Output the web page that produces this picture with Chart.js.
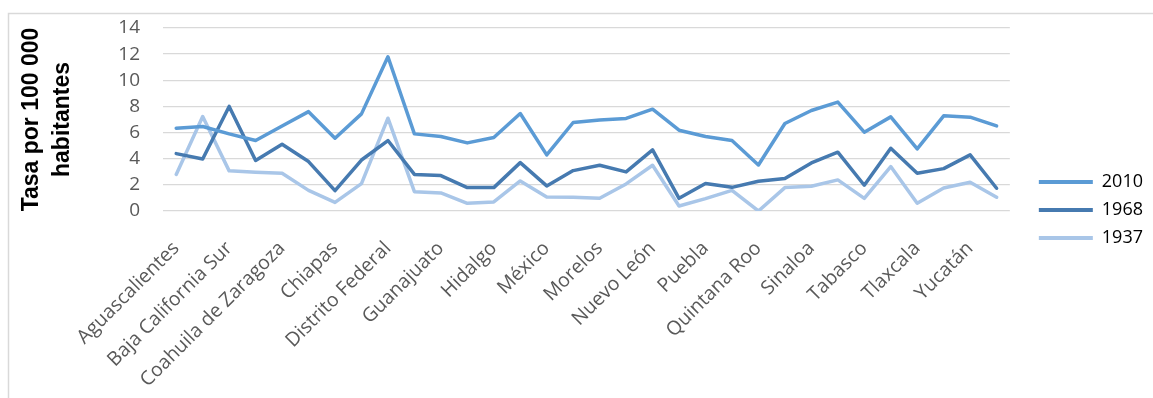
<!DOCTYPE html>
<html>
<head>
<meta charset="utf-8">
<script src="https://cdn.jsdelivr.net/npm/chart.js@4/dist/chart.umd.min.js"></script>
<style>
  html, body { margin: 0; padding: 0; background: #ffffff; }
  #wrap { width: 1153px; height: 398px; }
</style>
</head>
<body>
<div id="wrap"><canvas id="c" width="1153" height="398"></canvas></div>
<script>
const estados = [
  "Aguascalientes", "Baja California", "Baja California Sur", "Campeche",
  "Coahuila de Zaragoza", "Colima", "Chiapas", "Chihuahua",
  "Distrito Federal", "Durango", "Guanajuato", "Guerrero",
  "Hidalgo", "Jalisco", "México", "Michoacán de Ocampo",
  "Morelos", "Nayarit", "Nuevo León", "Oaxaca",
  "Puebla", "Querétaro", "Quintana Roo", "San Luis Potosí",
  "Sinaloa", "Sonora", "Tabasco", "Tamaulipas",
  "Tlaxcala", "Veracruz", "Yucatán", "Zacatecas"
];
const serie2010 = [6.33, 6.46, 5.9, 5.39, 6.5, 7.6, 5.57, 7.43, 11.8, 5.9, 5.7, 5.21, 5.62, 7.46, 4.29, 6.77,
                   6.97, 7.08, 7.79, 6.18, 5.7, 5.39, 3.52, 6.69, 7.69, 8.33, 6.03, 7.2, 4.75, 7.28, 7.18, 6.51];
const serie1968 = [4.39, 3.98, 8.0, 3.86, 5.1, 3.78, 1.56, 3.9, 5.39, 2.8, 2.71, 1.79, 1.79, 3.7, 1.92, 3.09,
                   3.5, 2.99, 4.67, 0.97, 2.1, 1.81, 2.27, 2.48, 3.68, 4.5, 1.97, 4.8, 2.89, 3.24, 4.29, 1.74];
const serie1937 = [2.8, 7.23, 3.07, 2.96, 2.89, 1.58, 0.66, 2.09, 7.1, 1.48, 1.38, 0.59, 0.69, 2.3, 1.07, 1.05,
                   0.97, 2.07, 3.5, 0.38, 0.95, 1.58, 0.0, 1.79, 1.89, 2.38, 0.97, 3.4, 0.59, 1.76, 2.2, 1.05];
const seriesNombres = ["2010", "1968", "1937"];
const yMin = 0, yMax = 14, yPaso = 2;
const yTitulo = ["Tasa por 100 000", "habitantes"];

const colores = ["#5B9BD5", "#467AB0", "#A9C6E8"];
const valores = [serie2010, serie1968, serie1937];

const frame = {
  id: 'frame',
  beforeDraw(chart) {
    const ctx = chart.ctx;
    ctx.save();
    ctx.fillStyle = '#ffffff';
    ctx.fillRect(0, 0, chart.width, chart.height);
    ctx.strokeStyle = '#D9D9D9';
    ctx.lineWidth = 1.5;
    ctx.strokeRect(8.5, 13.5, chart.width + 10, chart.height + 10);
    ctx.restore();
  }
};

new Chart(document.getElementById('c'), {
  type: 'line',
  data: {
    labels: estados,
    datasets: seriesNombres.map((n, i) => ({
      label: n,
      data: valores[i],
      borderColor: colores[i],
      backgroundColor: colores[i],
      borderWidth: 3.5,
      pointRadius: 0,
      pointHoverRadius: 0,
      tension: 0,
      borderCapStyle: 'round',
      borderJoinStyle: 'round',
      fill: false
    }))
  },
  options: {
    responsive: false,
    animation: false,
    layout: { padding: { top: 28, bottom: 6, left: 0, right: 0 } },
    plugins: {
      tooltip: { enabled: false },
      legend: {
        position: 'right',
        labels: {
          boxWidth: 54,
          boxHeight: 4,
          padding: 10,
          color: '#000000',
          font: { family: 'Open Sans', size: 18 },
          generateLabels: (chart) => Chart.defaults.plugins.legend.labels.generateLabels(chart)
            .map(l => Object.assign(l, { lineWidth: 0 }))
        }
      }
    },
    scales: {
      x: {
        type: 'category',
        offset: true,
        grid: { display: false },
        border: { display: false },
        ticks: {
          autoSkip: false,
          maxRotation: 45,
          minRotation: 45,
          padding: 18,
          color: '#595959',
          font: { family: 'Open Sans', size: 19.5 },
          callback: function (v, i) { return i % 2 === 0 ? this.getLabelForValue(v) : ''; }
        },
        afterFit: (s) => { s.height = 181; }
      },
      y: {
        min: yMin,
        max: yMax,
        grid: { color: '#D9D9D9', lineWidth: 1.3, drawTicks: false },
        border: { display: false },
        ticks: {
          stepSize: yPaso,
          autoSkip: false,
          padding: 23,
          color: '#595959',
          font: { family: 'Open Sans', size: 19 }
        },
        title: {
          display: true,
          text: yTitulo,
          color: '#000000',
          font: { family: 'Liberation Sans', size: 23, weight: 'bold', lineHeight: 1.35 },
          padding: { top: 16, bottom: 0 }
        },
        afterFit: (s) => { s.width = 163; s.paddingTop = 0; s.paddingBottom = 0; }
      },
      gap: {
        type: 'linear',
        position: 'right',
        display: true,
        grid: { display: false },
        border: { display: false },
        ticks: { display: false },
        afterFit: (s) => { s.width = 19; s.paddingTop = 0; s.paddingBottom = 0; }
      }
    }
  },
  plugins: [frame]
});
</script>
</body>
</html>
